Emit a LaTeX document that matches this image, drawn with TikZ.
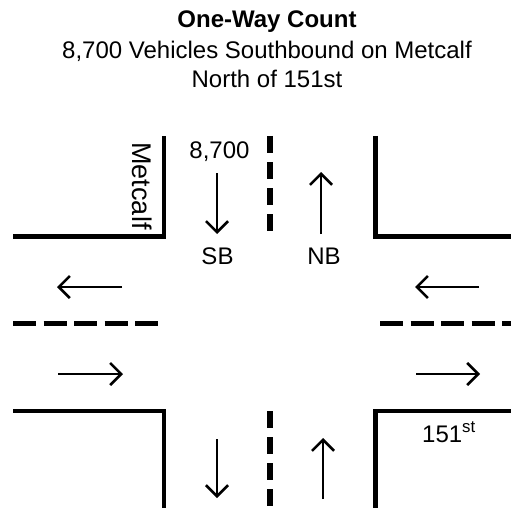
\documentclass[tikz,border=0pt]{standalone}
\usepackage{fontspec}
\setmainfont{Liberation Sans}
\usetikzlibrary{arrows.meta}
\begin{document}
\begin{tikzpicture}[x=1pt,y=-1pt,
  road/.style={line width=4.5pt, line join=miter},
  laneline/.style={line width=5pt, dash pattern=on 23pt off 7.5pt},
  centerline/.style={line width=5.5pt, dash pattern=on 17pt off 9pt},
  flow/.style={line width=2.6pt, -{Straight Barb[length=11pt,width=22pt,line width=2.6pt]}},
  lbl/.style={font=\fontsize{24}{28}\selectfont, inner sep=0pt}
]
\useasboundingbox (0,0) rectangle (511,508);
% titles
\node[lbl, font=\bfseries\fontsize{24}{28}\selectfont, anchor=base] (title) at (267,28) {One-Way Count};
\node[lbl, anchor=base] (sub1) at (267,59) {8,700 Vehicles Southbound on Metcalf};
\node[lbl, anchor=base] (sub2) at (267,88) {North of 151st};
% road edges
\draw[road] (13,236.5) -- (164,236.5) -- (164,136);
\draw[road] (375.5,136) -- (375.5,236.5) -- (511,236.5);
\draw[road] (13,411) -- (164,411) -- (164,508);
\draw[road] (511,411) -- (375.5,411) -- (375.5,508);
% center lines
\draw[centerline] (270,136) -- (270,237);
\draw[centerline] (270,411) -- (270,508);
\draw[laneline] (13,323) -- (160,323);
\draw[laneline] (380,323) -- (515,323);
% arrow end points
\coordinate (sbA) at (217,173); \coordinate (sbB) at (217,234);
\coordinate (nbA) at (321,234); \coordinate (nbB) at (321,172);
\coordinate (sdA) at (217,439); \coordinate (sdB) at (217,498);
\coordinate (nuA) at (323,499); \coordinate (nuB) at (323,438);
\coordinate (wlA) at (122,287); \coordinate (wlB) at (57,287);
\coordinate (wrA) at (479,287); \coordinate (wrB) at (415,287);
\coordinate (elA) at (58,374); \coordinate (elB) at (123,374);
\coordinate (erA) at (416,374); \coordinate (erB) at (480,374);
\foreach \a/\b in {sbA/sbB,nbA/nbB,sdA/sdB,nuA/nuB,wlA/wlB,wrA/wrB,elA/elB,erA/erB}
  \draw[flow] (\a) -- (\b);
% labels
\node[lbl] (count) at (219.5,152) {8,700};
\node[lbl] (sb) at (217.5,256.5) {SB};
\node[lbl] (nb) at (324,256.5) {NB};
\node[lbl, font=\fontsize{27}{30}\selectfont, rotate=-90] (metcalf) at (142,186) {Metcalf};
\node[lbl, anchor=base west] (cross) at (422,442) {151\textsuperscript{st}};
\end{tikzpicture}
\end{document}
